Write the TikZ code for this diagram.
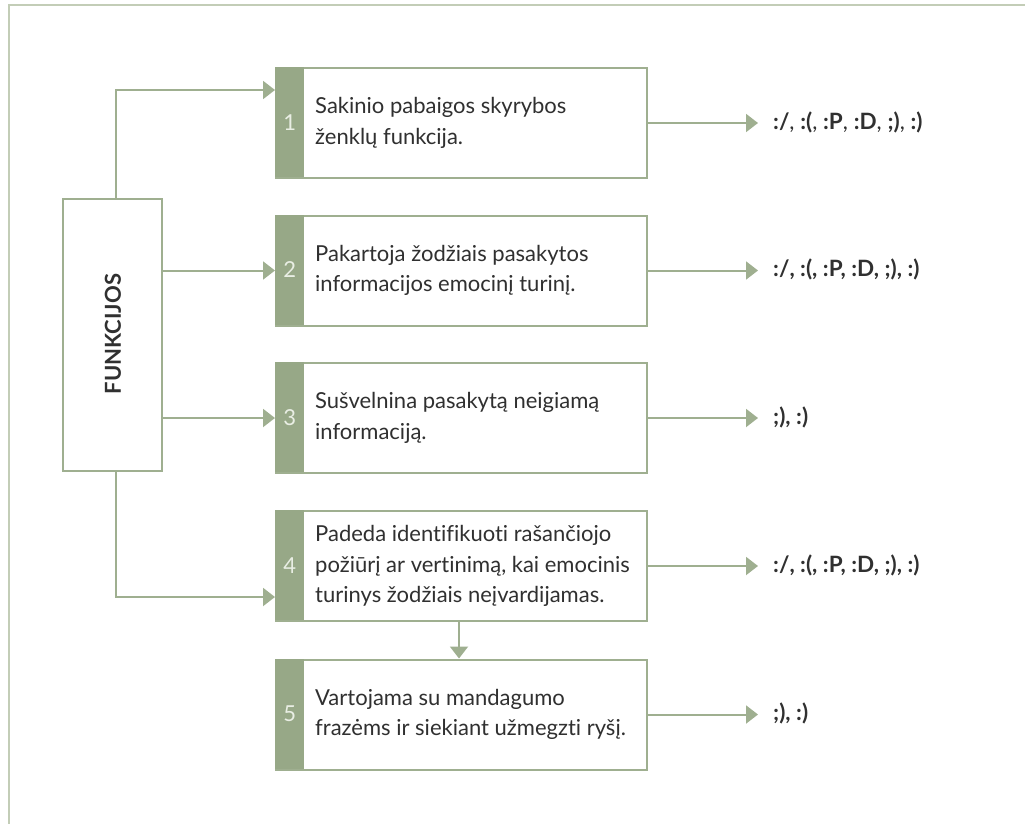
\documentclass[tikz,border=0pt]{standalone}
\usepackage{fontspec}
\setmainfont{Lato}[Ligatures=NoCommon]
\usetikzlibrary{arrows.meta}
\definecolor{stripc}{HTML}{97A887}
\definecolor{lnc}{HTML}{9FAF90}
\definecolor{framec}{HTML}{C3CDB7}
\definecolor{txtc}{HTML}{303030}
\definecolor{numc}{HTML}{E9EEE4}
\tikzset{
  boxframe/.style={draw=lnc, line width=2pt, fill=white, minimum width=371pt, minimum height=110pt, anchor=north west, inner sep=0pt},
  stripbox/.style={fill=stripc, minimum width=29pt, minimum height=110pt, anchor=north west, inner sep=0pt, text=numc, font=\fontsize{22}{26}\selectfont},
  boxtext/.style={anchor=west, align=left, inner sep=0pt, text=txtc, font=\fontsize{22}{30.5}\selectfont},
  rlabel/.style={anchor=west, inner sep=0pt, text=txtc, font=\fontsize{22.5}{26}\selectfont\bfseries},
  arr/.style={draw=lnc, line width=2pt, -{Triangle[length=12pt, width=18pt]}},
  conn/.style={draw=lnc, line width=2pt}
}
\begin{document}
\begin{tikzpicture}[x=1pt,y=-1pt]
\useasboundingbox (0,0) rectangle (1025,824);
\draw[framec, line width=2pt] (8.5,824) -- (8.5,5.5) -- (1025,5.5);

% function box
\node[draw=lnc, line width=2pt, minimum width=99pt, minimum height=272pt, inner sep=0pt] (f) at (112.5,335) {};
\node[rotate=90, text=txtc, font=\fontsize{22}{26}\selectfont\bfseries] (fl) at (113,334) {FUNKCIJOS};

% boxes
\foreach \i/\y in {1/67,2/214.5,3/362,4/510,5/658.5}{
  \node[boxframe] (b\i) at (275,\y) {};
  \node[stripbox] (s\i) at (275,\y) {\i};
}
\node[boxtext] (t1) at ([xshift=40pt]b1.west) {Sakinio pabaigos skyrybos\\ženklų funkcija.};
\node[boxtext] (t2) at ([xshift=40pt]b2.west) {Pakartoja žodžiais pasakytos\\informacijos emocinį turinį.};
\node[boxtext] (t3) at ([xshift=40pt]b3.west) {Sušvelnina pasakytą neigiamą\\informaciją.};
\node[boxtext] (t4) at ([xshift=40pt]b4.west) {Padeda identifikuoti rašančiojo\\požiūrį ar vertinimą, kai emocinis\\turinys žodžiais neįvardijamas.};
\node[boxtext] (t5) at ([xshift=40pt]b5.west) {Vartojama su mandagumo\\frazėms ir siekiant užmegzti ryšį.};

% right labels
\node[rlabel] (r1) at (773,122) {:/\mdseries, \bfseries:(\mdseries, \bfseries:P\mdseries, \bfseries:D\mdseries, \bfseries;)\mdseries, \bfseries:)};
\node[rlabel] (r2) at (773,269.5) {:/, :(, :P, :D, ;), :)};
\node[rlabel] (r3) at (773,417) {;), :)};
\node[rlabel] (r4) at (773,565) {:/, :(, :P, :D, ;), :)};
\node[rlabel] (r5) at (773,713.5) {;), :)};

\foreach \i in {1,...,5}{
  \draw[arr] (b\i.east) -- ([xshift=-15pt]r\i.west |- b\i.east);
}

% left connectors
\coordinate (a1) at (275,90);
\coordinate (a4) at (275,597);
\coordinate (dx) at (459,0);
\draw[arr] ([xshift=3.5pt]f.north) |- (a1);
\draw[arr] ([xshift=3.5pt]f.south) |- (a4);
\draw[arr] (f.east |- b2.west) -- (b2.west);
\draw[arr] (f.east |- b3.west) -- (b3.west);
\draw[arr] (b4.south -| dx) -- (b5.north -| dx);
\end{tikzpicture}
\end{document}
